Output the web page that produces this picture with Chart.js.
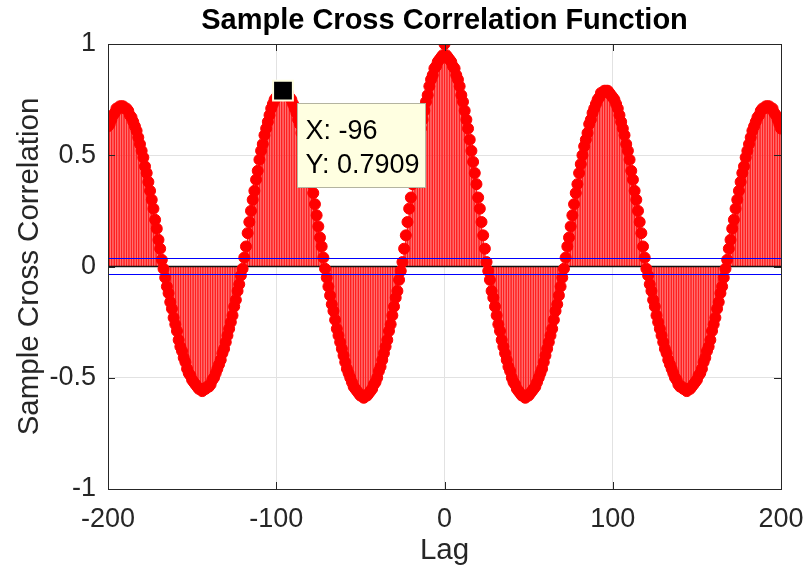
<!DOCTYPE html>
<html>
<head>
<meta charset="utf-8">
<script src="https://cdn.jsdelivr.net/npm/chart.js@4.4.1/dist/chart.umd.min.js"></script>
<style>
    html, body { margin: 0; padding: 0; background: #fff; }
    #wrap { width: 803px; height: 573px; position: relative; }
</style>
</head>
<body>
<div id="wrap"><canvas id="ccfChart" width="803" height="573"></canvas></div>
<script>
// Lags run -200 .. 200, one value per lag
const lagMin = -200;
const lagMax = 200;

// lags -200 .. -1
const ccfLeft = [
    0.63,0.64,0.66,0.68,0.69,0.71,0.71,0.72,0.72,0.72,
    0.71,0.71,0.70,0.68,0.67,0.65,0.63,0.61,0.58,0.55,
    0.52,0.49,0.45,0.42,0.38,0.34,0.30,0.26,0.21,0.17,
    0.12,0.08,0.03,-0.01,-0.05,-0.09,-0.12,-0.16,-0.19,-0.23,
    -0.26,-0.29,-0.33,-0.36,-0.38,-0.41,-0.43,-0.46,-0.48,-0.49,
    -0.51,-0.52,-0.53,-0.54,-0.55,-0.55,-0.56,-0.55,-0.55,-0.54,
    -0.54,-0.53,-0.51,-0.50,-0.48,-0.46,-0.44,-0.42,-0.39,-0.37,
    -0.34,-0.31,-0.28,-0.25,-0.22,-0.18,-0.15,-0.11,-0.08,-0.04,
    -0.01,0.04,0.09,0.15,0.20,0.25,0.30,0.34,0.39,0.43,
    0.48,0.52,0.55,0.59,0.62,0.65,0.68,0.71,0.73,0.75,
    0.76,0.77,0.78,0.79,0.7909,0.79,0.78,0.78,0.76,0.75,
    0.73,0.71,0.69,0.66,0.64,0.60,0.57,0.54,0.50,0.46,
    0.42,0.37,0.33,0.28,0.23,0.18,0.13,0.09,0.04,-0.01,
    -0.05,-0.09,-0.13,-0.17,-0.20,-0.24,-0.28,-0.31,-0.34,-0.37,
    -0.40,-0.43,-0.46,-0.48,-0.50,-0.52,-0.54,-0.55,-0.56,-0.57,
    -0.58,-0.58,-0.59,-0.58,-0.58,-0.57,-0.56,-0.55,-0.53,-0.52,
    -0.50,-0.47,-0.45,-0.42,-0.39,-0.36,-0.33,-0.29,-0.26,-0.22,
    -0.18,-0.14,-0.11,-0.06,-0.02,0.02,0.08,0.14,0.20,0.26,
    0.31,0.37,0.42,0.47,0.52,0.57,0.62,0.66,0.70,0.74,
    0.77,0.81,0.84,0.86,0.89,0.90,0.92,0.93,0.94,0.95
];

// lags 0 .. 200
const ccfRight = [
    1.00,
    0.95,0.94,0.93,0.92,0.90,0.89,0.86,0.84,0.81,0.77,
    0.74,0.70,0.66,0.62,0.57,0.52,0.47,0.42,0.37,0.31,
    0.26,0.20,0.14,0.08,0.02,-0.02,-0.06,-0.11,-0.14,-0.18,
    -0.22,-0.26,-0.29,-0.33,-0.36,-0.39,-0.42,-0.45,-0.47,-0.50,
    -0.52,-0.53,-0.55,-0.56,-0.57,-0.58,-0.58,-0.59,-0.58,-0.58,
    -0.57,-0.56,-0.55,-0.54,-0.52,-0.50,-0.48,-0.46,-0.43,-0.40,
    -0.37,-0.34,-0.31,-0.28,-0.24,-0.20,-0.17,-0.13,-0.09,-0.05,
    -0.01,0.04,0.09,0.13,0.18,0.23,0.28,0.33,0.37,0.42,
    0.46,0.50,0.54,0.57,0.60,0.64,0.66,0.69,0.71,0.73,
    0.75,0.76,0.78,0.78,0.79,0.79,0.79,0.78,0.77,0.76,
    0.75,0.73,0.71,0.68,0.65,0.62,0.59,0.55,0.52,0.48,
    0.43,0.39,0.34,0.30,0.25,0.20,0.15,0.09,0.04,-0.01,
    -0.04,-0.08,-0.11,-0.15,-0.18,-0.22,-0.25,-0.28,-0.31,-0.34,
    -0.37,-0.39,-0.42,-0.44,-0.46,-0.48,-0.50,-0.51,-0.53,-0.54,
    -0.54,-0.55,-0.55,-0.56,-0.55,-0.55,-0.54,-0.53,-0.52,-0.51,
    -0.49,-0.48,-0.46,-0.43,-0.41,-0.38,-0.36,-0.33,-0.29,-0.26,
    -0.23,-0.19,-0.16,-0.12,-0.09,-0.05,-0.01,0.03,0.08,0.12,
    0.17,0.21,0.26,0.30,0.34,0.38,0.42,0.45,0.49,0.52,
    0.55,0.58,0.61,0.63,0.65,0.67,0.68,0.70,0.71,0.71,
    0.72,0.72,0.72,0.71,0.71,0.69,0.68,0.66,0.64,0.62
];

const confBound = 0.036;            // blue significance lines
const xTicks = [-200, -100, 0, 100, 200];
const yTicks = [-1, -0.5, 0, 0.5, 1];
const tipLag = -96;
const tipValue = 0.7909;

const FONT = "'Liberation Sans', Arial, Helvetica, sans-serif";
const INK = '#262626';

const ccf = ccfLeft.concat(ccfRight);
const ccfPoints = ccf.map((v, i) => ({ x: lagMin + i, y: v }));
const edgeLine = y => [{ x: lagMin, y: y }, { x: lagMax, y: y }];

// MATLAB-ish frame, inward ticks, labels and the data tip box
const matlabDecor = {
    id: 'matlabDecor',
    afterDatasetsDraw(chart) {
        const { ctx, chartArea: a, scales } = chart;
        ctx.save();
        ctx.strokeStyle = INK;
        ctx.lineWidth = 1;
        ctx.beginPath();
        xTicks.forEach(t => {
            const px = Math.round(scales.x.getPixelForValue(t)) + 0.5;
            ctx.moveTo(px, a.bottom); ctx.lineTo(px, a.bottom - 7);
            ctx.moveTo(px, a.top); ctx.lineTo(px, a.top + 7);
        });
        yTicks.forEach(t => {
            const py = Math.round(scales.y.getPixelForValue(t)) + 0.5;
            ctx.moveTo(a.left, py); ctx.lineTo(a.left + 7, py);
            ctx.moveTo(a.right, py); ctx.lineTo(a.right - 7, py);
        });
        ctx.stroke();
        ctx.strokeRect(Math.round(a.left) + 0.5, Math.round(a.top) + 0.5,
            Math.round(a.right - a.left), Math.round(a.bottom - a.top));
        ctx.restore();
    },
    afterDraw(chart) {
        const { ctx, chartArea: a, scales } = chart;
        const cx = (a.left + a.right) / 2;
        ctx.save();
        // title
        ctx.fillStyle = '#000';
        ctx.font = `bold 29px ${FONT}`;
        ctx.textAlign = 'center';
        ctx.textBaseline = 'middle';
        ctx.fillText('Sample Cross Correlation Function', cx, 21);
        // axis labels
        ctx.fillStyle = INK;
        ctx.font = `29.5px ${FONT}`;
        ctx.fillText('Lag', cx, 551);
        ctx.translate(30, (a.top + a.bottom) / 2);
        ctx.rotate(-Math.PI / 2);
        ctx.fillText('Sample Cross Correlation', 0, 0);
        ctx.restore();

        // data tip
        const px = scales.x.getPixelForValue(tipLag);
        const py = scales.y.getPixelForValue(tipValue);
        const bx = Math.round(px + 14) + 0.5, by = Math.round(py + 12) + 0.5;
        ctx.save();
        ctx.fillStyle = '#ffffe1';
        ctx.strokeStyle = '#b4b4a0';
        ctx.lineWidth = 1;
        ctx.fillRect(bx, by, 128, 84);
        ctx.strokeRect(bx, by, 128, 84);
        ctx.fillStyle = '#000';
        ctx.font = `27px ${FONT}`;
        ctx.textAlign = 'left';
        ctx.textBaseline = 'middle';
        ctx.fillText('X: ' + tipLag, bx + 8, by + 28);
        ctx.fillText('Y: ' + tipValue, bx + 8, by + 62);
        ctx.restore();
    }
};

new Chart(document.getElementById('ccfChart'), {
    type: 'bar',
    data: {
        datasets: [
            {   // stems
                type: 'bar', data: ccfPoints, backgroundColor: '#ff2020',
                barThickness: 0.8, order: 5
            },
            {   // stem baseline
                type: 'line', data: edgeLine(0), borderColor: '#111',
                borderWidth: 1.5, pointRadius: 0, order: 4
            },
            {   // markers
                type: 'line', data: ccfPoints, showLine: false,
                pointRadius: 5.5, pointBorderWidth: 1,
                pointBackgroundColor: '#ff0000', pointBorderColor: '#ff0000', order: 3
            },
            {
                type: 'line', data: edgeLine(confBound), borderColor: '#0000ff',
                borderWidth: 1.2, pointRadius: 0, order: 2
            },
            {
                type: 'line', data: edgeLine(-confBound), borderColor: '#0000ff',
                borderWidth: 1.2, pointRadius: 0, order: 2
            },
            {   // data tip marker
                type: 'line', data: [{ x: tipLag, y: tipValue }], showLine: false,
                pointStyle: 'rect', pointRadius: 14, pointBorderWidth: 2,
                pointBackgroundColor: '#000', pointBorderColor: '#ffffe1', order: 1
            }
        ]
    },
    options: {
        responsive: false,
        devicePixelRatio: 1,
        animation: false,
        layout: { padding: { top: 44, right: 22, left: 0, bottom: 0 } },
        plugins: { legend: { display: false }, tooltip: { enabled: false }, title: { display: false } },
        scales: {
            x: {
                type: 'linear', min: lagMin, max: lagMax, offset: false,
                afterBuildTicks: s => { s.ticks = xTicks.map(v => ({ value: v })); },
                ticks: { color: INK, font: { family: FONT, size: 27 }, padding: 14, maxRotation: 0, autoSkip: false },
                grid: { color: '#e2e2e2', drawTicks: false, offset: false },
                border: { display: false },
                afterFit: s => { s.height = 84; s.paddingLeft = 0; s.paddingRight = 0; }
            },
            y: {
                min: -1, max: 1,
                afterBuildTicks: s => { s.ticks = yTicks.map(v => ({ value: v })); },
                ticks: { color: INK, font: { family: FONT, size: 27 }, padding: 12, callback: v => String(v) },
                grid: { color: '#e2e2e2', drawTicks: false },
                border: { display: false },
                afterFit: s => { s.width = 108; s.paddingTop = 0; s.paddingBottom = 0; }
            }
        }
    },
    plugins: [matlabDecor]
});
</script>
</body>
</html>
